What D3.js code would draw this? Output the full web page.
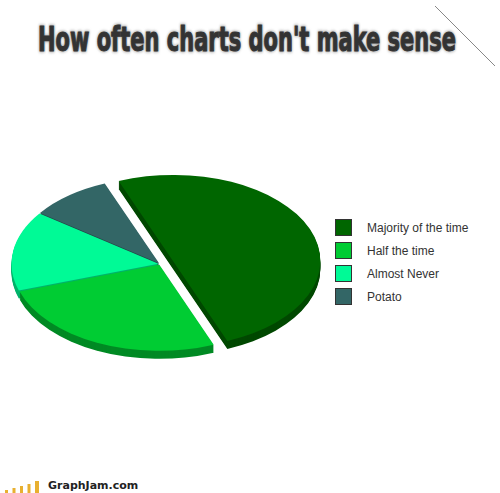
<!DOCTYPE html>
<html>
<head>
<meta charset="utf-8">
<script src="https://cdn.jsdelivr.net/npm/d3@7"></script>
<style>
  html, body { margin: 0; padding: 0; background: #fff; }
  svg { display: block; }
</style>
</head>
<body>
<svg id="chart" width="500" height="493"></svg>
<script>
const categories = ["Majority of the time", "Half the time", "Almost Never", "Potato"];
const values = [50, 26, 15, 9];
const topColors = ["#006600", "#00cc33", "#00fa96", "#336666"];
const sideColors = ["#004800", "#008a24", "#00b36b", "#224747"];
const explode = [14, 1.5, 1.5, 1.5];

const svg = d3.select("#chart");

const cx = 160, cy = 264;
const rx = 147, ry = 86;
const depth = 8;
const squash = ry / rx;

const defs = svg.append("defs");
defs.append("filter")
  .attr("id", "glow")
  .attr("x", "-5%").attr("y", "-30%")
  .attr("width", "110%").attr("height", "160%")
  .append("feGaussianBlur")
  .attr("stdDeviation", 1.2);

// title: soft grey halo, then the text (narrow font stretched tall)
const titleText = "How often charts don't make sense";
[["#aaa", 1.6, "url(#glow)"], ["#333", 0.7, null]].forEach(([col, sw, filt]) => {
  svg.append("text")
    .attr("transform", "translate(38, 51) scale(1, 1.42)")
    .attr("textLength", 418)
    .attr("lengthAdjust", "spacingAndGlyphs")
    .attr("font-family", "'Liberation Sans Narrow', 'DejaVu Sans Condensed', sans-serif")
    .attr("font-weight", "bold")
    .attr("font-size", "24px")
    .attr("fill", col)
    .attr("stroke", col)
    .attr("stroke-width", sw)
    .attr("filter", filt)
    .text(titleText);
});

// page corner line
svg.append("line")
  .attr("x1", 435).attr("y1", 6)
  .attr("x2", 495).attr("y2", 66)
  .attr("stroke", "#888")
  .attr("stroke-width", 1);

const pie = d3.pie()
  .sort(null)
  .startAngle(-21.7 * Math.PI / 180)
  .endAngle((360 - 21.7) * Math.PI / 180);

const arcs = pie(values).map((d, i) => {
  const mid = (d.startAngle + d.endAngle) / 2;
  return {
    ...d, i,
    ox: Math.sin(mid) * explode[i],
    oy: -Math.cos(mid) * explode[i] * squash
  };
});

const arc = d3.arc().innerRadius(0).outerRadius(rx);

const pieG = svg.append("g");

// side walls: stack shifted copies
for (let k = depth; k >= 1; k--) {
  pieG.append("g")
    .selectAll("path")
    .data(arcs)
    .join("path")
    .attr("transform", d => `translate(${cx + d.ox}, ${cy + d.oy + k}) scale(1, ${squash})`)
    .attr("d", arc)
    .attr("fill", d => sideColors[d.i]);
}

// tops
pieG.append("g")
  .selectAll("path")
  .data(arcs)
  .join("path")
  .attr("transform", d => `translate(${cx + d.ox}, ${cy + d.oy}) scale(1, ${squash})`)
  .attr("d", arc)
  .attr("fill", d => topColors[d.i]);

// legend
const legend = svg.append("g")
  .attr("transform", "translate(335, 219)");

const item = legend.selectAll("g")
  .data(categories)
  .join("g")
  .attr("transform", (d, i) => `translate(0, ${i * 23})`);

item.append("rect")
  .attr("x", 0.5).attr("y", 0.5)
  .attr("width", 16)
  .attr("height", 16)
  .attr("fill", (d, i) => topColors[i])
  .attr("stroke", "#333")
  .attr("stroke-width", 1);

item.append("text")
  .attr("x", 32)
  .attr("y", 13)
  .attr("font-family", "'Liberation Sans', Arial, sans-serif")
  .attr("font-size", "12px")
  .attr("fill", "#333")
  .text(d => d);

// footer logo
const logoBars = [3, 5, 7, 9, 12];
svg.append("g")
  .selectAll("rect")
  .data(logoBars)
  .join("rect")
  .attr("x", (d, i) => 5 + i * 7.5)
  .attr("y", d => 493 - d)
  .attr("width", (d, i) => i === 4 ? 4 : 3)
  .attr("height", d => d)
  .attr("fill", "#e8b030");

svg.append("text")
  .attr("x", 48)
  .attr("y", 489)
  .attr("font-family", "'DejaVu Sans', Verdana, sans-serif")
  .attr("font-weight", "bold")
  .attr("font-size", "11px")
  .attr("fill", "#222")
  .text("GraphJam.com");
</script>
</body>
</html>
